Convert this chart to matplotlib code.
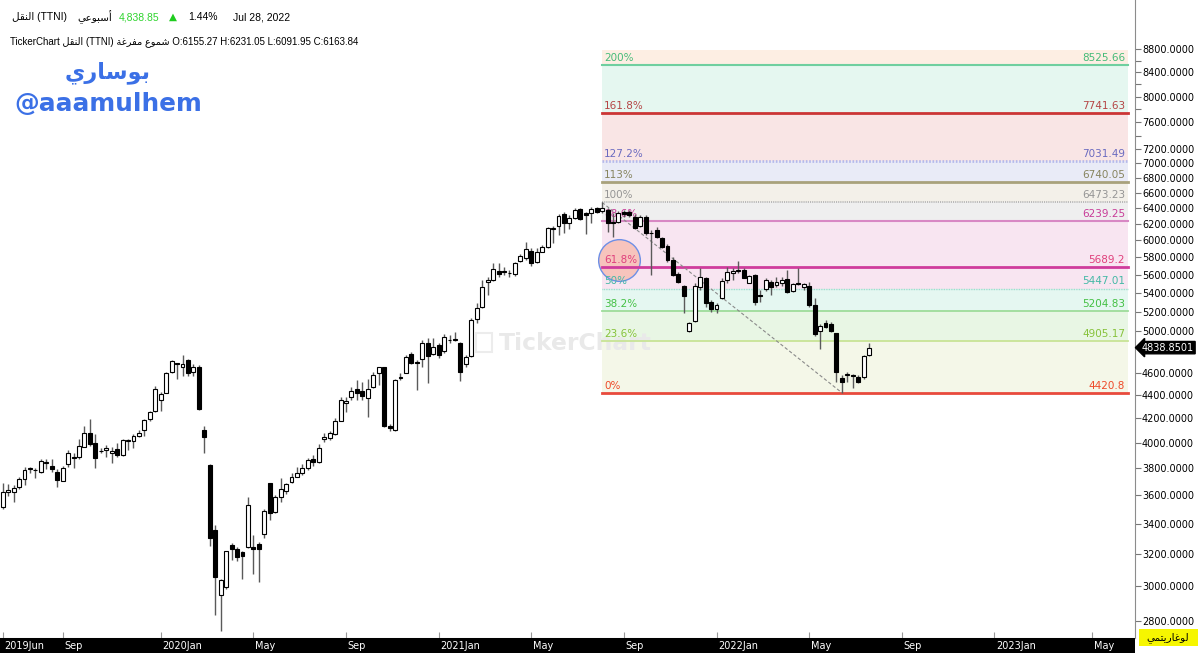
import matplotlib
matplotlib.use("Agg")
import matplotlib.pyplot as plt
from matplotlib.ticker import FixedLocator, FormatStrFormatter, NullFormatter
from matplotlib.patches import Rectangle
from matplotlib.transforms import blended_transform_factory

# weekly candles, TTNI (Jun 2019 -> Jul 28 2022), one entry per bar
opens = [3517, 3620, 3624, 3656, 3720, 3794, 3790, 3772, 3843, 3819,
         3773, 3703, 3830, 3886, 3884, 3967, 4080, 3998, 3930, 3939,
         3914, 3949, 3899, 4015, 4014, 4053, 4102, 4191, 4264, 4356,
         4420, 4605, 4688, 4651, 4720, 4608, 4655, 4102, 3824, 3357,
         2946, 2996, 3259, 3231, 3210, 3246, 3246, 3264, 3330, 3686,
         3483, 3584, 3630, 3693, 3736, 3760, 3800, 3870, 3850, 4026,
         4040, 4069, 4181, 4328, 4380, 4450, 4435, 4374, 4468, 4595,
         4651, 4137, 4102, 4558, 4602, 4776, 4702, 4734, 4887, 4776,
         4864, 4805, 4913, 4917, 4887, 4680, 4760, 5121, 5252, 5516,
         5541, 5645, 5641, 5620, 5604, 5756, 5787, 5868, 5741, 5864,
         5923, 6140, 6173, 6323, 6207, 6277, 6387, 6332, 6340, 6395,
         6366, 6374, 6228, 6220, 6353, 6353, 6290, 6174, 6290, 6091,
         6124, 6023, 5931, 5767, 5604, 5474, 5005, 5107, 5467, 5560,
         5305, 5228, 5341, 5541, 5615, 5653, 5653, 5510, 5596, 5376,
         5442, 5522, 5485, 5511, 5548, 5420, 5511, 5460, 5478, 5270,
         5005, 5087, 5073, 4979, 4549, 4580, 4580, 4565, 4562, 4764]
highs = [3690, 3680, 3671, 3735, 3811, 3811, 3803, 3873, 3868, 3873,
         3791, 3817, 3941, 3919, 4031, 4135, 4195, 4067, 3954, 3980,
         3966, 3993, 4031, 4031, 4069, 4102, 4196, 4264, 4480, 4429,
         4605, 4720, 4694, 4767, 4733, 4683, 4673, 4135, 3830, 3390,
         3042, 3220, 3272, 3242, 3218, 3588, 3323, 3279, 3499, 3690,
         3600, 3723, 3690, 3761, 3806, 3830, 3880, 3900, 3985, 4075,
         4094, 4199, 4385, 4385, 4474, 4534, 4519, 4540, 4611, 4657,
         4657, 4151, 4540, 4601, 4767, 4798, 4720, 4913, 4931, 4931,
         4880, 4972, 4962, 4995, 4897, 4767, 5131, 5289, 5541, 5577,
         5728, 5728, 5683, 5653, 5748, 5837, 5983, 5904, 5904, 5943,
         6166, 6177, 6320, 6353, 6311, 6395, 6404, 6353, 6417, 6417,
         6473.23, 6395, 6332, 6366, 6374, 6374, 6323, 6311, 6311, 6124,
         6157, 6043, 5955, 5798, 5634, 5485, 5097, 5504, 5672, 5577,
         5323, 5291, 5560, 5691, 5672, 5760, 5672, 5596, 5607, 5431,
         5566, 5541, 5571, 5577, 5653, 5511, 5672, 5504, 5522, 5341,
         5073, 5114, 5097, 4986, 4580, 4611, 4589, 4580, 4767, 4885]
lows = [3499, 3593, 3553, 3648, 3671, 3765, 3728, 3765, 3791, 3771,
        3657, 3701, 3811, 3803, 3873, 3962, 3972, 3798, 3915, 3884,
        3837, 3888, 3894, 3941, 3955, 4047, 4053, 4179, 4256, 4264,
        4415, 4596, 4540, 4571, 4571, 4571, 4270, 3919, 3250, 2834,
        2743, 2986, 3160, 3156, 3046, 3240, 3077, 3026, 3305, 3425,
        3476, 3553, 3612, 3686, 3731, 3745, 3785, 3820, 3840, 4005,
        4020, 4061, 4173, 4256, 4356, 4356, 4356, 4209, 4459, 4489,
        4129, 4096, 4096, 4534, 4596, 4682, 4444, 4651, 4504, 4767,
        4736, 4790, 4880, 4906, 4526, 4658, 4751, 5080, 5242, 5376,
        5530, 5577, 5596, 5577, 5585, 5741, 5767, 5702, 5730, 5857,
        5911, 5963, 6063, 6083, 6136, 6257, 6248, 6071, 6214, 6332,
        6332, 6103, 6043, 6207, 6290, 6282, 6132, 6165, 6063, 5596,
        6023, 5904, 5748, 5585, 5512, 5183, 4995, 5097, 5431, 5252,
        5200, 5183, 5334, 5504, 5541, 5615, 5560, 5504, 5270, 5305,
        5424, 5376, 5460, 5478, 5402, 5409, 5485, 5431, 5252, 4955,
        4825, 5029, 4995, 4513, 4420.8, 4517, 4459, 4504, 4548, 4758]
closes = [3620, 3637, 3651, 3716, 3786, 3798, 3786, 3855, 3847, 3791,
          3711, 3799, 3914, 3882, 3972, 4075, 3988, 3876, 3936, 3959,
          3935, 3899, 4020, 4018, 4055, 4080, 4185, 4256, 4450, 4406,
          4596, 4708, 4685, 4685, 4596, 4655, 4277, 4047, 3301, 3053,
          3040, 3217, 3231, 3178, 3188, 3529, 3231, 3233, 3490, 3476,
          3588, 3644, 3681, 3731, 3761, 3800, 3860, 3850, 3960, 4047,
          4075, 4179, 4356, 4350, 4435, 4420, 4394, 4456, 4580, 4651,
          4137, 4116, 4534, 4555, 4746, 4693, 4693, 4880, 4760, 4842,
          4767, 4946, 4910, 4920, 4611, 4751, 5114, 5242, 5467, 5541,
          5660, 5607, 5630, 5622, 5729, 5814, 5892, 5729, 5864, 5923,
          6145, 6145, 6298, 6214, 6269, 6374, 6257, 6311, 6383, 6345,
          6395, 6207, 6207, 6339, 6320, 6311, 6152, 6290, 6083, 6083,
          6043, 5923, 5767, 5596, 5523, 5369, 5080, 5474, 5577, 5288,
          5224, 5270, 5530, 5634, 5645, 5641, 5566, 5585, 5305, 5366,
          5541, 5467, 5522, 5541, 5412, 5496, 5494, 5493, 5270, 4972,
          5053, 5046, 5005, 4612, 4513, 4589, 4571, 4519, 4758, 4838.85]

tick_pos = [0, 11, 29, 46, 63, 80, 97, 114, 131, 148, 165, 182, 200]
tick_labels = ["2019Jun", "Sep", "2020Jan", "May", "Sep", "2021Jan", "May",
               "Sep", "2022Jan", "May", "Sep", "2023Jan", "May"]

# 4800 sits under the last-price tag, so it is not labelled
y_major = [2800, 3000, 3200, 3400, 3600, 3800, 4000, 4200, 4400, 4600,
           5000, 5200, 5400, 5600, 5800, 6000, 6200, 6400, 6600, 6800, 7000,
           7200, 7600, 8000, 8400, 8800]
y_minor = [7400, 7800, 8200, 8600]

# fibonacci tool (from swing high bar 110 to swing low bar 154)
fib_pcts = ["0%", "23.6%", "38.2%", "50%", "61.8%", "88.6%", "100%",
            "113%", "127.2%", "161.8%", "200%"]
fib_vals = [4420.8, 4905.17, 5204.83, 5447.01, 5689.2, 6239.25, 6473.23,
            6740.05, 7031.49, 7741.63, 8525.66]
fib_top = 8790
fib_x0, fib_x1 = 110, 206.5
swing = ([110, 154], [6473.23, 4420.8])
last_price = 4838.8501

line_colors = ["#e84a3c", "#c8e496", "#9edc9a", "#8fd8c8", "#cf3c9c",
               "#d888c4", "#b4b4b4", "#a8a27c", "#b6b9ea", "#cc3535", "#6fcf9f"]
text_colors = ["#ee4a2a", "#86c23a", "#44c044", "#44b8a6", "#e0407c",
               "#c83c98", "#959595", "#87845e", "#6a6ac0", "#b54545", "#45bb78"]
line_widths = [2.0, 1.3, 1.3, 1.0, 2.0, 1.5, 1.3, 2.0, 2.0, 2.0, 1.5]
dotted = (0, (0.6, 0.6))
line_styles = ["-", "-", "-", dotted, "-", "-", dotted, "-", dotted, "-", "-"]
band_colors = ["#f4f7e8", "#e8f6e4", "#e5f7f1", "#f8e5f1", "#f8e5f1",
               "#efefef", "#f3f0e9", "#e9ebf7", "#f9e5e5", "#e5f7f0", "#fdeee3"]

# arabic text given in shaped, visual order
naql = "\uFEDE\uFED8\uFEE8\uFEDF\uFE8D"
weekly = "\uFEF2\uFECB\uFEEE\uFE92\uFEB3\uFE83"
hollow = "\uFE94\uFECF\uFEAE\uFED4\uFEE3 \uFEC9\uFEEE\uFEE4\uFEB7"
busari = "\uFEF1\uFEAD\uFE8E\uFEB3\uFEEE\uFE91"
log_lbl = "\uFEF2\uFEE4\uFE98\uFEF3\uFEAD\uFE8E\uFECF\uFEEE\uFEDF"

W, H = 1200, 653
fig = plt.figure(figsize=(12, 6.53), dpi=100)
fig.patch.set_facecolor("white")
ax = fig.add_axes([0, 15 / H, 1135 / W, 638 / H])
ax.set_yscale("log")
ax.set_xlim(-0.5, 207.8)
ax.set_ylim(2704, 9712)

# fib bands + lines + labels
edges = fib_vals + [fib_top]
for i in range(len(fib_vals)):
    ax.fill_between([fib_x0, fib_x1], edges[i], edges[i + 1],
                    color=band_colors[i], lw=0, zorder=0.5)
for v, p, lc, tc, lw, ls in zip(fib_vals, fib_pcts, line_colors, text_colors,
                                line_widths, line_styles):
    ax.plot([fib_x0, fib_x1], [v, v], color=lc, lw=lw, ls=ls, zorder=1.5)
    ax.annotate(p, (fib_x0, v), xytext=(1.5, 1.5), textcoords="offset points",
                ha="left", va="bottom", fontsize=7.5, color=tc, zorder=2)
    ax.annotate(f"{v:g}", (fib_x1, v), xytext=(-2, 1.5), textcoords="offset points",
                ha="right", va="bottom", fontsize=7.5, color=tc, zorder=2)

# highlight circle round the 61.8% label
ax.scatter([113.1], [5773], s=900, facecolor="#f7c4bd", edgecolor="#6d8fe6",
           lw=1.0, zorder=1.2)

# watermark
ax.text(0.507, 0.462, "TickerChart", transform=ax.transAxes, fontsize=16.8,
        fontweight="bold", color="#e9e9e9", ha="center", va="center", zorder=0.8)
ax.add_patch(Rectangle((476 / 1135, 1 - 352 / 638), 16 / 1135, 19 / 638,
                       transform=ax.transAxes, fill=False, ec="#ececec", lw=1.5,
                       zorder=0.8))

# swing trend line
ax.plot(swing[0], swing[1], color="#8a8a8a", lw=0.8, ls=(0, (3, 2)), zorder=2.5)

# candles
xs = list(range(len(opens)))
ax.vlines(xs, lows, highs, color="#5a5a5a", lw=1.0, zorder=3)
for x, o, c in zip(xs, opens, closes):
    lo, hi = min(o, c), max(o, c)
    face = "white" if c >= o else "black"
    ax.bar(x, hi - lo, bottom=lo, width=0.72, color=face, edgecolor="black",
           lw=0.8, zorder=4)

# axes styling
for s in ["left", "top"]:
    ax.spines[s].set_visible(False)
ax.spines["right"].set_color("#8c8c8c")
ax.spines["bottom"].set_color("#a0a0a0")
ax.yaxis.tick_right()
ax.yaxis.set_major_locator(FixedLocator(y_major))
ax.yaxis.set_minor_locator(FixedLocator(y_minor))
ax.yaxis.set_major_formatter(FormatStrFormatter("%.4f"))
ax.yaxis.set_minor_formatter(NullFormatter())
ax.tick_params(axis="y", which="both", direction="out", length=4, width=0.8,
               color="#777777", labelsize=7, pad=1)
ax.set_xticks(tick_pos)
ax.tick_params(axis="x", direction="in", length=4, color="#999999",
               labelbottom=False)

# last price tag
tr = blended_transform_factory(ax.transAxes, ax.transData)
ax.text(1.029, last_price, f"{last_price:.4f}", transform=tr, ha="center",
        va="center", fontsize=7, color="white", clip_on=False, zorder=6,
        bbox=dict(boxstyle="larrow,pad=0.12", fc="black", ec="black"))

# bottom date bar
axb = fig.add_axes([0, 0, 1135 / W, 15 / H])
axb.set_facecolor("black")
axb.set_xlim(ax.get_xlim())
axb.set_ylim(0, 1)
axb.set_xticks([])
axb.set_yticks([])
for s in axb.spines.values():
    s.set_visible(False)
for p, lab in zip(tick_pos, tick_labels):
    axb.text(p + 0.3, 0.45, lab, color="white", fontsize=7, ha="left", va="center")

# log-scale box
fig.patches.append(Rectangle((1139 / W, 1 - 646 / H), 59 / W, 17 / H,
                             transform=fig.transFigure, fc="#f6f600", ec="none"))
fig.text(1168 / W, 1 - 637.5 / H, log_lbl, fontsize=7.5, ha="center", va="center",
         family=["DejaVu Sans"])

# header
hdr = ["Liberation Sans", "DejaVu Sans"]
y1 = 1 - 17 / H
fig.text(12 / W, y1, naql + " (TTNI)", fontsize=7.5, va="center", family=hdr)
fig.text(77 / W, y1, weekly, fontsize=7.5, va="center", family=hdr)
fig.text(119 / W, y1, "4,838.85", fontsize=7.5, va="center", color="#2ed42e", family=hdr)
fig.text(169 / W, y1, "\u25B2", fontsize=7.5, va="center", color="#1fcc1f",
         family=["DejaVu Sans"])
fig.text(188 / W, y1, "1.44%", fontsize=7.5, va="center", family=hdr)
fig.text(233 / W, y1, "Jul 28, 2022", fontsize=7.5, va="center", family=hdr)
fig.text(10 / W, 1 - 42 / H,
         "TickerChart " + naql + " (TTNI) " + hollow +
         " O:6155.27 H:6231.05 L:6091.95 C:6163.84",
         fontsize=7, va="center", family=hdr)

# author tag
fig.text(108 / W, 1 - 73 / H, busari, fontsize=16, fontweight="bold",
         color="#3b70e6", ha="center", va="center", family=["DejaVu Sans"])
fig.text(108 / W, 1 - 104 / H, "@aaamulhem", fontsize=17.8, fontweight="bold",
         color="#3b70e6", ha="center", va="center", family=["DejaVu Sans"])

fig.savefig("out.png", dpi=100)
